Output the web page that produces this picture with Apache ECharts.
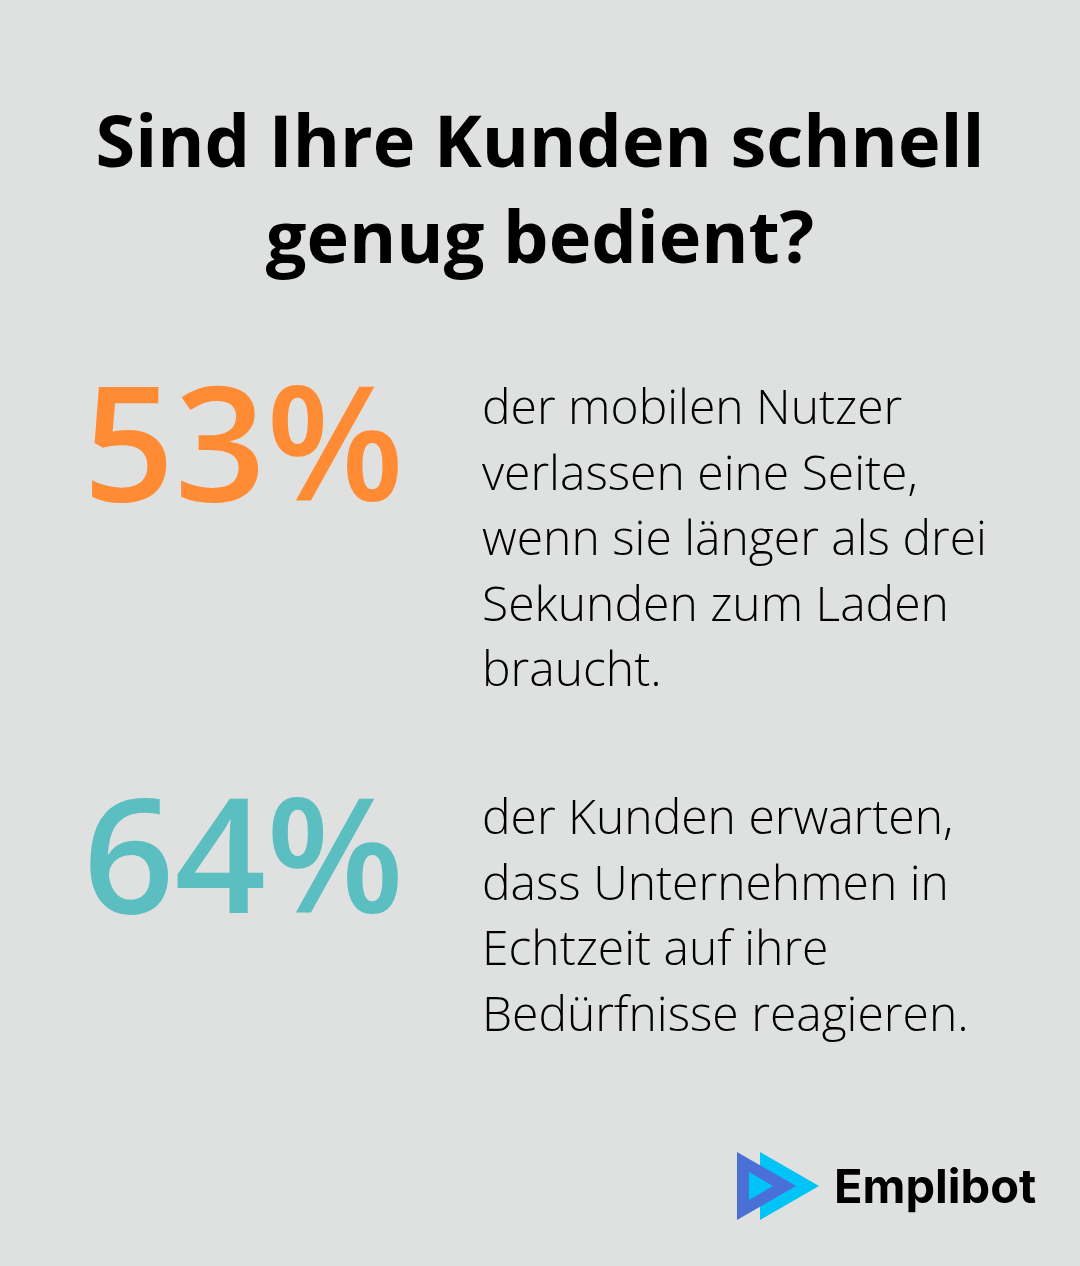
<!DOCTYPE html>
<html>
<head>
<meta charset="utf-8">
<script src="https://cdn.jsdelivr.net/npm/echarts@6/dist/echarts.min.js"></script>
<style>
html,body{margin:0;padding:0;background:#dfe1e0;}
#chart{width:1080px;height:1266px;}
</style>
</head>
<body>
<div id="chart"></div>
<script>
// ---- data ----
var titleLines = ['Sind Ihre Kunden schnell', 'genug bedient?'];
var statValues = [53, 64];
var statColors = ['#ff8c35', '#5bbec0'];
var statTexts = [
  ['der mobilen Nutzer', 'verlassen eine Seite,', 'wenn sie länger als drei', 'Sekunden zum Laden', 'braucht.'],
  ['der Kunden erwarten,', 'dass Unternehmen in', 'Echtzeit auf ihre', 'Bedürfnisse reagieren.']
];
var brandName = 'Emplibot';

// ---- layout ----
var chart = echarts.init(document.getElementById('chart'));
var els = [];
function mid(baseline, size){ return baseline - 0.30 * size; }

var titleBase = [168, 264];
titleLines.forEach(function(t, i){
  els.push({type:'text', style:{text:t, x:540, y:mid(titleBase[i],72), align:'center', verticalAlign:'middle',
    font:'700 72px "Open Sans"', fill:'#000000'}});
});

var statBase = [503, 915];
var textBase0 = [425, 835];
statValues.forEach(function(v, i){
  els.push({type:'text', style:{text:v + '%', x:83, y:mid(statBase[i],160), align:'left', verticalAlign:'middle',
    font:'600 160px "Open Sans"', fill:statColors[i]}});
  statTexts[i].forEach(function(line, j){
    els.push({type:'text', style:{text:line, x:482, y:mid(textBase0[i] + j*65.5, 48), align:'left', verticalAlign:'middle',
      font:'300 48px "Open Sans"', fill:'#000000'}});
  });
});

// logo
els.push({type:'polygon', shape:{points:[[760,1152],[760,1220],[819,1186]]}, style:{fill:'#00c4f5'}});
els.push({type:'polygon', shape:{points:[[737,1152],[737,1220],[796,1186]]}, style:{fill:'#4a6fd6'}});
els.push({type:'polygon', shape:{points:[[749,1172],[749,1200],[773,1186]]}, style:{fill:'#00c4f5'}});
els.push({type:'text', style:{text:brandName, x:834, y:mid(1203,47), align:'left', verticalAlign:'middle',
  font:'700 47px Inter', fill:'#000000'}});

chart.setOption({
  backgroundColor:'#dfe1e0',
  animation:false,
  graphic:{elements:els}
});
</script>
</body>
</html>
